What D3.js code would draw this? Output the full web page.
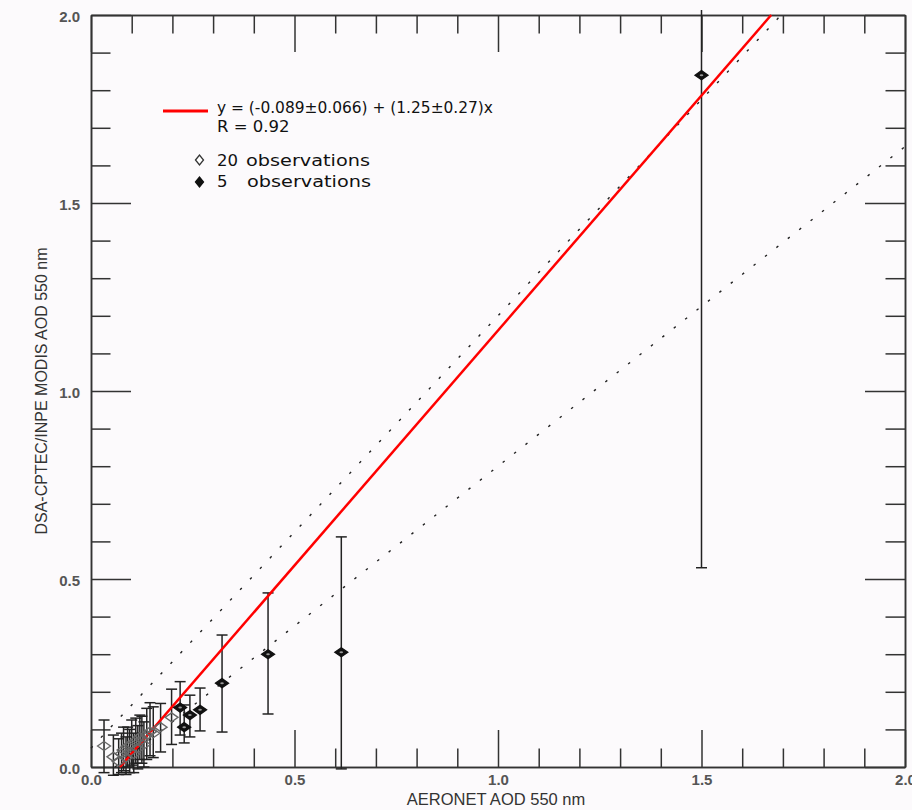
<!DOCTYPE html>
<html>
<head>
<meta charset="utf-8">
<script src="https://cdn.jsdelivr.net/npm/d3@7"></script>
<style>
  body { margin: 0; background: #fcfafc; }
  svg { display: block; }
</style>
</head>
<body>
<div id="chart"></div>
<script>
// Observations, open diamonds (AERONET x, MODIS y, error bar low / high)
const openX  = [0.032, 0.055, 0.068, 0.075, 0.080, 0.086, 0.090, 0.095, 0.100, 0.105,
                0.110, 0.115, 0.120, 0.125, 0.130, 0.137, 0.145, 0.153, 0.171, 0.198];
const openY  = [0.056, 0.027, 0.015, 0.035, 0.045, 0.025, 0.055, 0.040, 0.060, 0.035,
                0.070, 0.050, 0.080, 0.072, 0.060, 0.085, 0.094, 0.090, 0.106, 0.132];
const openLo = [-0.015, -0.022, -0.020, -0.015, -0.010, -0.020, 0.000, -0.015, 0.005, -0.015,
                0.010, -0.005, 0.020, 0.010, 0.000, 0.020, 0.030, 0.025, 0.040, 0.060];
const openHi = [0.125, 0.085, 0.075, 0.090, 0.106, 0.080, 0.106, 0.100, 0.125, 0.090,
                0.130, 0.110, 0.138, 0.135, 0.120, 0.156, 0.171, 0.160, 0.169, 0.207];

// Observations, filled diamonds
const filledX  = [0.219, 0.229, 0.243, 0.268, 0.322, 0.435, 0.615, 1.500];
const filledY  = [0.158, 0.106, 0.138, 0.152, 0.223, 0.300, 0.305, 1.840];
const filledLo = [0.085, 0.064, 0.080, 0.096, 0.093, 0.141, -0.005, 0.530];
const filledHi = [0.227, 0.165, 0.191, 0.210, 0.351, 0.463, 0.612, 2.350];

// Regression fit and expected error envelope
const fitIntercept = -0.089, fitSlope = 1.25;
const envUpper = [0.05, 1.15];   // intercept, slope
const envLower = [-0.05, 0.85];

const majorTicks = [0, 0.5, 1.0, 1.5, 2.0];
const minorTicks = d3.range(0, 2.001, 0.1).filter(v => Math.round(v * 10) % 5 !== 0);

const legendEquation = "y = (-0.089±0.066) + (1.25±0.27)x";
const legendR = "R = 0.92";
const legendOpen = ["20", "observations"];
const legendFilled = ["5", "observations"];

// Dimensions
const width = 912, height = 810;
const margin = { top: 15, right: 7, bottom: 43, left: 91 };

const svg = d3.select("#chart")
    .append("svg")
    .attr("width", width)
    .attr("height", height);

svg.append("rect").attr("width", width).attr("height", height).attr("fill", "#fcfafc");

const x = d3.scaleLinear().domain([0, 2]).range([margin.left, width - margin.right]);
const y = d3.scaleLinear().domain([0, 2]).range([height - margin.bottom, margin.top]);

const axisColor = "#333";
const tickFont = "'Liberation Sans', Arial, sans-serif";

function styleAxis(g) {
    g.selectAll("path, line").attr("stroke", axisColor).attr("stroke-width", 1.5);
    g.selectAll("text")
        .attr("fill", "#555")
        .style("font-family", tickFont)
        .style("font-size", "15px")
        .style("font-weight", "bold");
}

// Axes: major and minor ticks on all four sides, pointing inward
const bottomY = y(0), topY = y(2), leftX = x(0), rightX = x(2);

svg.append("g").attr("transform", `translate(0,${bottomY})`)
    .call(d3.axisBottom(x).tickValues(minorTicks).tickSize(-18.5).tickSizeOuter(0).tickFormat(""))
    .call(styleAxis);
svg.append("g").attr("transform", `translate(0,${bottomY})`)
    .call(d3.axisBottom(x).tickValues(majorTicks).tickSize(-37).tickSizeOuter(0)
        .tickPadding(7).tickFormat(d3.format(".1f")))
    .call(styleAxis);

svg.append("g").attr("transform", `translate(0,${topY})`)
    .call(d3.axisTop(x).tickValues(minorTicks).tickSize(-18.5).tickSizeOuter(0).tickFormat(""))
    .call(styleAxis);
svg.append("g").attr("transform", `translate(0,${topY})`)
    .call(d3.axisTop(x).tickValues(majorTicks).tickSize(-37).tickSizeOuter(0).tickFormat(""))
    .call(styleAxis);

svg.append("g").attr("transform", `translate(${leftX},0)`)
    .call(d3.axisLeft(y).tickValues(minorTicks).tickSize(-19.5).tickSizeOuter(0).tickFormat(""))
    .call(styleAxis);
svg.append("g").attr("transform", `translate(${leftX},0)`)
    .call(d3.axisLeft(y).tickValues(majorTicks).tickSize(-40).tickSizeOuter(0)
        .tickPadding(11).tickFormat(d3.format(".1f")))
    .call(styleAxis)
    .selectAll("text").attr("dy", "0.45em");

svg.append("g").attr("transform", `translate(${rightX},0)`)
    .call(d3.axisRight(y).tickValues(minorTicks).tickSize(-19.5).tickSizeOuter(0).tickFormat(""))
    .call(styleAxis);
svg.append("g").attr("transform", `translate(${rightX},0)`)
    .call(d3.axisRight(y).tickValues(majorTicks).tickSize(-40).tickSizeOuter(0).tickFormat(""))
    .call(styleAxis);

// Axis titles
svg.append("text")
    .attr("x", (leftX + rightX) / 2 - 2)
    .attr("y", 805)
    .attr("text-anchor", "middle")
    .attr("fill", "#333")
    .style("font-family", tickFont)
    .style("font-size", "16.5px")
    .text("AERONET AOD 550 nm");

svg.append("text")
    .attr("transform", `translate(47,${(topY + bottomY) / 2}) rotate(-90)`)
    .attr("text-anchor", "middle")
    .attr("fill", "#333")
    .style("font-family", tickFont)
    .style("font-size", "16px")
    .text("DSA-CPTEC/INPE MODIS AOD 550 nm");

// Expected error envelope (dotted)
const line = d3.line().x(d => x(d[0])).y(d => y(d[1]));
const envelope = [
    [[0, envUpper[0]], [(2 - envUpper[0]) / envUpper[1], 2]],
    [[-envLower[0] / envLower[1], 0], [2, envLower[0] + envLower[1] * 2]]
];
svg.append("g").selectAll("path")
    .data(envelope)
    .enter()
    .append("path")
    .attr("d", line)
    .attr("fill", "none")
    .attr("stroke", "#222")
    .attr("stroke-width", 1.4)
    .attr("stroke-dasharray", "2.5,12");

// Error bars, clipped at the top of the picture
svg.append("clipPath").attr("id", "clip-top")
    .append("rect").attr("x", 0).attr("y", 10).attr("width", width).attr("height", height);

const points = openX.map((v, i) => ({ x: v, y: openY[i], lo: openLo[i], hi: openHi[i], filled: false }))
    .concat(filledX.map((v, i) => ({ x: v, y: filledY[i], lo: filledLo[i], hi: filledHi[i], filled: true })));

const bars = svg.append("g").attr("clip-path", "url(#clip-top)")
    .attr("stroke", "#222").attr("stroke-width", 1.5);
bars.selectAll(".stem").data(points).enter().append("line")
    .attr("x1", d => x(d.x)).attr("x2", d => x(d.x))
    .attr("y1", d => y(d.lo)).attr("y2", d => y(d.hi));
bars.selectAll(".cap-lo").data(points).enter().append("line")
    .attr("x1", d => x(d.x) - 5.5).attr("x2", d => x(d.x) + 5.5)
    .attr("y1", d => y(d.lo)).attr("y2", d => y(d.lo));
bars.selectAll(".cap-hi").data(points).enter().append("line")
    .attr("x1", d => x(d.x) - 5.5).attr("x2", d => x(d.x) + 5.5)
    .attr("y1", d => y(d.hi)).attr("y2", d => y(d.hi));

// Regression line
svg.append("path")
    .attr("d", line([[-fitIntercept / fitSlope, 0], [(2 - fitIntercept) / fitSlope, 2]]))
    .attr("stroke", "#ff0000")
    .attr("stroke-width", 2.5)
    .attr("fill", "none");

// Diamonds
function diamond(cx, cy, w, h) {
    return `M${cx - w},${cy} L${cx},${cy - h} L${cx + w},${cy} L${cx},${cy + h} Z`;
}
svg.append("g").selectAll("path")
    .data(points.filter(d => !d.filled))
    .enter().append("path")
    .attr("d", d => diamond(x(d.x), y(d.y), 6.5, 4.5))
    .attr("fill", "none")
    .attr("stroke", "#666")
    .attr("stroke-width", 1.3);

const filledG = svg.append("g");
filledG.selectAll("path")
    .data(points.filter(d => d.filled))
    .enter().append("path")
    .attr("d", d => diamond(x(d.x), y(d.y), 6.5, 4.5))
    .attr("fill", "#111")
    .attr("stroke", "#111")
    .attr("stroke-width", 1.3);
filledG.selectAll("ellipse")
    .data(points.filter(d => d.filled))
    .enter().append("ellipse")
    .attr("cx", d => x(d.x)).attr("cy", d => y(d.y))
    .attr("rx", 1.8).attr("ry", 1)
    .attr("fill", "#999");

// Legend
const legendFont = "'DejaVu Sans', Verdana, sans-serif";
const legend = svg.append("g")
    .style("font-family", legendFont)
    .style("font-size", "16.5px")
    .attr("fill", "#111");

legend.append("line")
    .attr("x1", 163).attr("x2", 208).attr("y1", 111).attr("y2", 111)
    .attr("stroke", "#ff0000").attr("stroke-width", 3);
legend.append("text").attr("x", 217).attr("y", 113)
    .attr("textLength", 276).attr("lengthAdjust", "spacingAndGlyphs")
    .text(legendEquation);
legend.append("text").attr("x", 217).attr("y", 132).text(legendR);

legend.append("path").attr("d", diamond(199.5, 160, 4, 5))
    .attr("fill", "#fff").attr("stroke", "#333").attr("stroke-width", 1.3);
legend.append("path").attr("d", diamond(199.5, 182, 4, 5))
    .attr("fill", "#111").attr("stroke", "#111").attr("stroke-width", 1.3);

const rowOpen = legend.append("text").attr("y", 166);
rowOpen.append("tspan").attr("x", 217).text(legendOpen[0]);
rowOpen.append("tspan").attr("x", 246)
    .attr("textLength", 124).attr("lengthAdjust", "spacingAndGlyphs").text(legendOpen[1]);
const rowFilled = legend.append("text").attr("y", 187);
rowFilled.append("tspan").attr("x", 217).text(legendFilled[0]);
rowFilled.append("tspan").attr("x", 247)
    .attr("textLength", 124).attr("lengthAdjust", "spacingAndGlyphs").text(legendFilled[1]);
</script>
</body>
</html>
